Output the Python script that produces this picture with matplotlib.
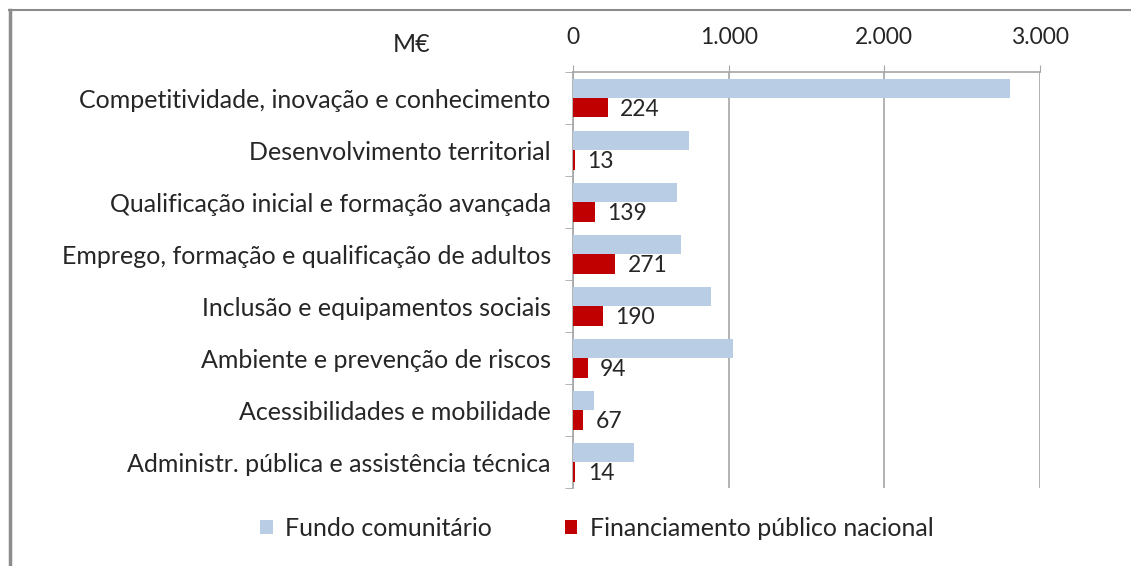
import matplotlib.pyplot as plt
from matplotlib.lines import Line2D
from matplotlib.ticker import FuncFormatter, FixedLocator

categorias = [
    "Competitividade, inovação e conhecimento",
    "Desenvolvimento territorial",
    "Qualificação inicial e formação avançada",
    "Emprego, formação e qualificação de adultos",
    "Inclusão e equipamentos sociais",
    "Ambiente e prevenção de riscos",
    "Acessibilidades e mobilidade",
    "Administr. pública e assistência técnica",
]
fundo_comunitario = [2810, 745, 665, 697, 888, 1030, 135, 392]
financiamento_nacional = [224, 13, 139, 271, 190, 94, 67, 14]
xticks = [0, 1000, 2000, 3000]

plt.rcParams['font.family'] = ['Lato', 'DejaVu Sans']
FS = 18
GREY = '#a6a6a6'
TXT = '#262626'

fig = plt.figure(figsize=(11.31, 5.66), dpi=100)
ax = fig.add_axes([573 / 1131, 1 - 488 / 566, 467 / 1131, 416 / 566])

y = list(range(len(categorias)))
h = 0.37
ax.barh([i - 0.183 for i in y], fundo_comunitario, height=h, color='#B9CDE5',
        label='Fundo comunitário', zorder=3)
bars = ax.barh([i + 0.19 for i in y], financiamento_nacional, height=h, color='#C00000',
               label='Financiamento público nacional', zorder=3)
for b, v in zip(bars, financiamento_nacional):
    ax.annotate(str(v), (b.get_width(), b.get_y() + b.get_height() / 2),
                xytext=(9, -1), textcoords='offset points', va='center', ha='left',
                fontsize=16.5, color=TXT)

ax.set_xlim(0, 3000)
ax.set_ylim(len(categorias) - 0.5, -0.5)
ax.xaxis.tick_top()
ax.set_xticks(xticks)
ax.xaxis.set_major_formatter(FuncFormatter(lambda v, p: f"{int(v):,}".replace(",", ".")))
ax.tick_params(axis='x', direction='out', length=5, color=GREY, labelsize=16.5,
               labelcolor=TXT, pad=12)
ax.set_yticks(y)
ax.set_yticklabels(categorias)
ax.tick_params(axis='y', which='major', length=0, labelsize=FS, labelcolor=TXT, pad=16)
ax.yaxis.set_minor_locator(FixedLocator([i - 0.5 for i in range(len(categorias) + 1)]))
ax.tick_params(axis='y', which='minor', length=6, color=GREY, direction='out')
ax.grid(axis='x', color=GREY, linewidth=1.2, zorder=0)
for s in ['right', 'bottom']:
    ax.spines[s].set_visible(False)
for s in ['top', 'left']:
    ax.spines[s].set_color(GREY)
    ax.spines[s].set_linewidth(1.2)

fig.text(412 / 1131, 1 - 45 / 566, "M€", fontsize=18, ha='center', va='center', color=TXT)

fig.legend(loc='center', bbox_to_anchor=(597 / 1131, 1 - 528 / 566), ncol=2,
           frameon=False, fontsize=FS, handlelength=0.5, handleheight=0.5,
           handletextpad=0.5, columnspacing=2.9, labelcolor=TXT)

# moldura
fig.add_artist(Line2D([10 / 1131, 10 / 1131], [0, 1 - 10 / 566], color='#8c8c8c',
                      linewidth=2.5, transform=fig.transFigure))
fig.add_artist(Line2D([9 / 1131, 1], [1 - 10 / 566, 1 - 10 / 566], color='#8c8c8c',
                      linewidth=1.5, transform=fig.transFigure))

fig.savefig("out.png", dpi=100)
